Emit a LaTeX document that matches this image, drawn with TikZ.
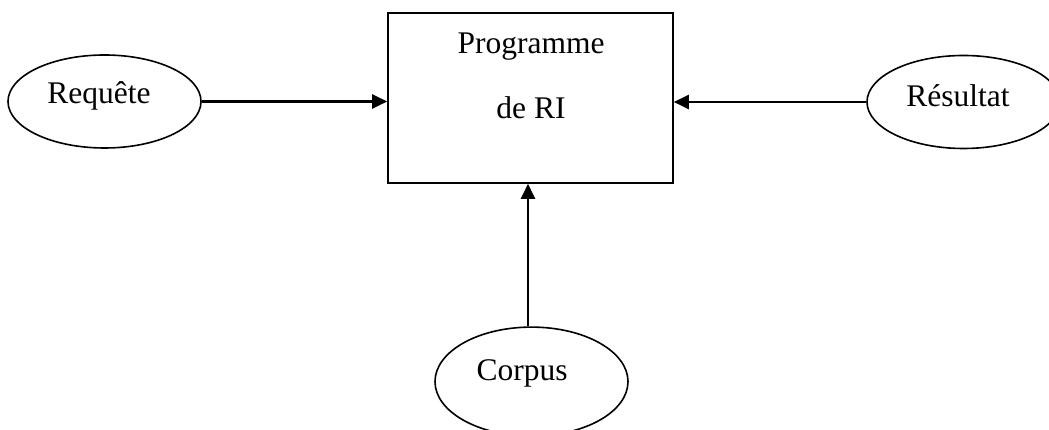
\documentclass[tikz,border=0pt]{standalone}
\usepackage{fontspec}
\setmainfont{Liberation Serif}
\usetikzlibrary{shapes.geometric,arrows.meta}

\begin{document}
\begin{tikzpicture}[x=1pt,y=1pt,
  bulle/.style={draw,ellipse,line width=1.6pt,minimum width=193pt,minimum height=93pt,inner sep=0pt},
  texte/.style={font=\fontsize{31.5}{65}\selectfont,align=center,inner sep=0pt},
  fleche/.style={line width=2.2pt,-{Triangle[length=15pt,width=14pt]}}]
\useasboundingbox (0,0) rectangle (1049,430);
% Drawing the program box
\node[draw,line width=1.6pt,minimum width=285pt,minimum height=170pt] (prog) at (530.5,332) {};
\node[texte] (progtxt) at (531,354.5) {Programme\\de RI};
% Drawing the ellipses
\node[bulle] (req) at (104.5,328.5) {};
\node[texte] (reqtxt) at (99,334) {Requête};
\node[bulle] (res) at (963.5,328) {};
\node[texte] (restxt) at (958,334) {Résultat};
\node[bulle,minimum height=109pt] (corp) at (531.5,48.4) {};
\node[texte] (corptxt) at (522,57) {Corpus};
% Done with nodes; drawing arrows
\draw[fleche] (req.east) -- (prog.west |- req.east);
\draw[fleche] (res.west) -- (prog.east |- res.west);
\draw[fleche] (corp.north -| 528,0) -- (prog.south -| 528,0);
\end{tikzpicture}
\end{document}
